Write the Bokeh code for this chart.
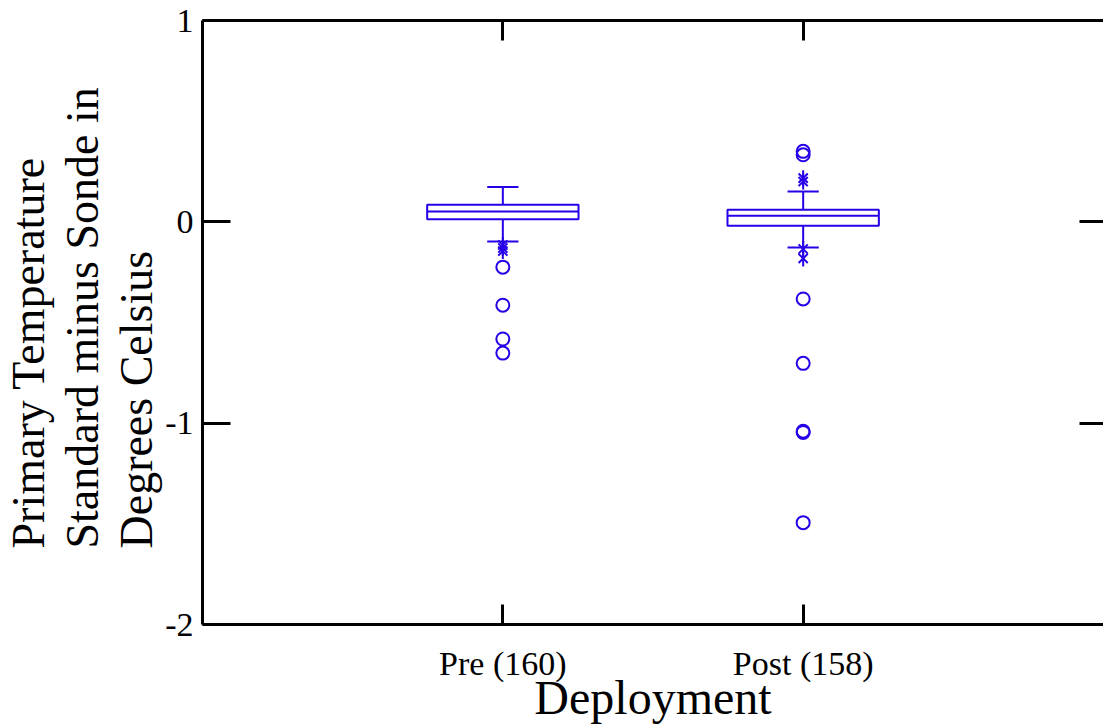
import numpy as np
from bokeh.plotting import figure
from bokeh.models import Range1d, LinearAxis, FixedTicker, ColumnDataSource, Title
from bokeh.embed import file_html
from bokeh.resources import INLINE

# ---- data ----
categories = ["Pre (160)", "Post (158)"]
xpos = [1, 2]
q1 = [0.013, -0.020]
median = [0.051, 0.030]
q3 = [0.085, 0.060]
whisker_low = [-0.098, -0.128]
whisker_high = [0.173, 0.151]
# outside inner fences (asterisks)
pre_near = [-0.115, -0.130, -0.145]
post_near = [0.217, 0.200, -0.135, -0.182]
# outside outer fences (circles)
pre_far = [-0.225, -0.414, -0.582, -0.652]
post_far = [0.350, 0.333, -0.383, -0.703, -1.040, -1.046, -1.494]
y_ticks = [-2, -1, 0, 1]
y_tick_labels = ["-2", "-1", "0", "1"]
y_title_lines = ["Primary Temperature", "Standard minus Sonde in", "Degrees Celsius"]
x_title = "Deployment"

BLUE = "#2800e8"
FONT = "Liberation Serif"
BOX_HALF = 0.252
CAP_HALF = 0.052

p = figure(width=1103, height=728, output_backend="svg", toolbar_location=None,
           x_range=Range1d(0, 3.0), y_range=Range1d(-2, 1),
           min_border_left=201, min_border_right=0, min_border_top=20, min_border_bottom=104)
p.xgrid.visible = False
p.ygrid.visible = False
p.outline_line_color = None
p.background_fill_color = "white"
p.border_fill_color = "white"

src = ColumnDataSource(dict(
    x=xpos, q1=q1, med=median, q3=q3, lo=whisker_low, hi=whisker_high,
    left=[x - BOX_HALF for x in xpos], right=[x + BOX_HALF for x in xpos],
    cl=[x - CAP_HALF for x in xpos], cr=[x + CAP_HALF for x in xpos],
))

# whiskers
p.segment(x0="x", y0="q3", x1="x", y1="hi", source=src, line_color=BLUE, line_width=2)
p.segment(x0="x", y0="q1", x1="x", y1="lo", source=src, line_color=BLUE, line_width=2)
p.segment(x0="cl", y0="hi", x1="cr", y1="hi", source=src, line_color=BLUE, line_width=2)
p.segment(x0="cl", y0="lo", x1="cr", y1="lo", source=src, line_color=BLUE, line_width=2)
# box
p.quad(left="left", right="right", bottom="q1", top="q3", source=src,
       fill_color="white", line_color=BLUE, line_width=2)
p.segment(x0="left", y0="med", x1="right", y1="med", source=src, line_color=BLUE, line_width=2)

# outliers
near_x = [xpos[0]] * len(pre_near) + [xpos[1]] * len(post_near)
near_y = pre_near + post_near
far_x = [xpos[0]] * len(pre_far) + [xpos[1]] * len(post_far)
far_y = pre_far + post_far
# six-armed asterisk: an "x" plus a vertical dash
p.scatter(near_x, near_y, marker="x", size=13, line_color=BLUE, line_width=2)
p.scatter(near_x, near_y, marker="dash", angle=np.pi / 2, size=16, line_color=BLUE, line_width=2)
p.scatter(far_x, far_y, marker="circle", size=13, fill_color=None, line_color=BLUE, line_width=2)

# ---- axes ----
xa = p.xaxis[0]
xa.ticker = FixedTicker(ticks=xpos)
xa.major_label_overrides = {x: c for x, c in zip(xpos, categories)}
ya = p.yaxis[0]
ya.ticker = FixedTicker(ticks=y_ticks)
ya.major_label_overrides = {t: s for t, s in zip(y_ticks, y_tick_labels)}

for ax in (xa, ya):
    ax.axis_line_width = 3
    ax.axis_line_color = "black"
    ax.major_tick_line_width = 3
    ax.major_tick_out = 0
    ax.minor_tick_line_color = None
    ax.major_label_text_font = FONT
    ax.major_label_text_font_size = "34px"
    ax.major_label_text_color = "black"
    ax.axis_label_text_font = FONT
    ax.axis_label_text_font_style = "normal"
    ax.axis_label_text_color = "black"
xa.major_tick_in = 20
xa.major_label_standoff = 20
xa.axis_label = x_title
xa.axis_label_text_font_size = "48px"
xa.axis_label_standoff = -14
ya.major_tick_in = 28
ya.major_label_standoff = 9

# y title as three left-aligned lines (innermost first)
for line in reversed(y_title_lines):
    p.add_layout(Title(text=line, align="left", offset=76, standoff=1,
                       text_font=FONT, text_font_size="46px", text_font_style="normal",
                       text_color="black"), "left")

top = LinearAxis(ticker=FixedTicker(ticks=xpos), axis_line_width=3, major_tick_line_width=3,
                 major_tick_in=20, major_tick_out=0, minor_tick_line_color=None,
                 major_label_text_font_size="1px", major_label_text_color=None,
                 major_label_standoff=0)
p.add_layout(top, "above")
right = LinearAxis(ticker=FixedTicker(ticks=y_ticks), axis_line_color=None, major_tick_line_width=3,
                   major_tick_in=24, major_tick_out=0, minor_tick_line_color=None,
                   major_label_text_font_size="1px", major_label_text_color=None,
                   major_label_standoff=0)
p.add_layout(right, "right")

open("out.html", "w").write(file_html(p, INLINE))
